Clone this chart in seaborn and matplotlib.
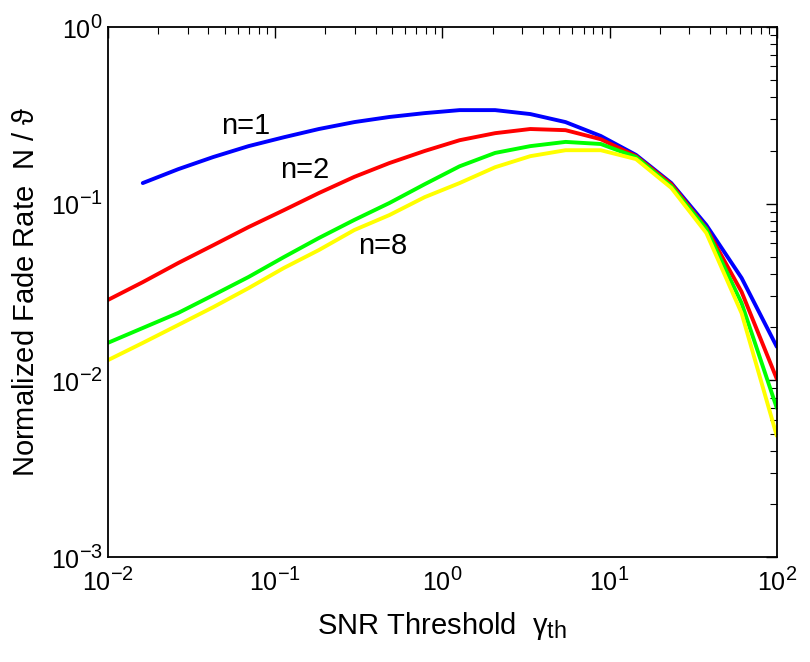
import numpy as np
import pandas as pd
import seaborn as sns
import matplotlib.pyplot as plt
import matplotlib._mathtext as mathtext

snr = [0.01, 0.0162, 0.0264, 0.0428, 0.0695, 0.113, 0.183, 0.298, 0.483, 0.785,
       1.27, 2.07, 3.36, 5.46, 8.86, 14.4, 23.4, 37.9, 61.6, 100.0]

# normalized fade rate per diversity order
rate_n1 = [np.nan, 0.131, 0.157, 0.184, 0.212, 0.238, 0.265, 0.290, 0.310, 0.326,
           0.339, 0.339, 0.322, 0.290, 0.242, 0.189, 0.131, 0.0758, 0.038, 0.0155]
rate_n2 = [0.0285, 0.0360, 0.0462, 0.0583, 0.0738, 0.092, 0.115, 0.142, 0.170, 0.199,
           0.229, 0.251, 0.265, 0.261, 0.232, 0.186, 0.129, 0.0728, 0.0317, 0.0102]
rate_n4 = [0.0163, 0.0198, 0.0241, 0.0304, 0.0385, 0.0499, 0.064, 0.081, 0.101, 0.129,
           0.163, 0.194, 0.212, 0.224, 0.218, 0.184, 0.126, 0.072, 0.0274, 0.00698]
rate_n8 = [0.0130, 0.0163, 0.0206, 0.026, 0.0333, 0.0433, 0.0547, 0.071, 0.0863, 0.109,
           0.131, 0.161, 0.186, 0.201, 0.201, 0.179, 0.123, 0.0683, 0.024, 0.00485]

orders = ['n=1', 'n=2', 'n=4', 'n=8']
colors = ['#0000ff', '#ff0000', '#00ff00', '#ffff00']

df = pd.concat([
    pd.DataFrame({'snr': snr, 'rate': r, 'n': name})
    for name, r in zip(orders, [rate_n1, rate_n2, rate_n4, rate_n8])
]).dropna()

sns.set_style('white')
plt.rcParams['font.family'] = ['Liberation Sans', 'DejaVu Sans']
plt.rcParams['mathtext.fontset'] = 'custom'
plt.rcParams['mathtext.rm'] = 'Liberation Sans'
plt.rcParams['mathtext.it'] = 'Liberation Sans'
plt.rcParams['axes.unicode_minus'] = False
for key in ['text.color', 'axes.labelcolor', 'xtick.color', 'ytick.color']:
    plt.rcParams[key] = 'black'
# bigger superscripts, like the original MATLAB-style tick labels
mathtext.SHRINK_FACTOR = 0.8

fig = plt.figure(figsize=(8.1, 6.62), dpi=100)
ax = fig.add_axes([0.133, 0.1586, 0.826, 0.8004])

sns.lineplot(data=df, x='snr', y='rate', hue='n', palette=colors,
             linewidth=2.8, legend=False, ax=ax, estimator=None, sort=False)

ax.set_xscale('log')
ax.set_yscale('log')
ax.set_xlim(1e-2, 1e2)
ax.set_ylim(1e-3, 1e0)

ax.text(0.0668, 0.275, 'n=1', fontsize=21, ha='center', va='center')
ax.text(0.151, 0.155, 'n=2', fontsize=21, ha='center', va='center')
ax.text(0.44, 0.0576, 'n=8', fontsize=21, ha='center', va='center')

ax.set_xlabel(r'SNR Threshold  $\gamma_{\rm th}$', fontsize=21, labelpad=10)
ax.set_ylabel(r'Normalized Fade Rate  N / $\vartheta$', fontsize=21, labelpad=8)

ax.tick_params(which='both', direction='in', top=True, right=True, labelsize=18)
ax.tick_params(which='major', length=8, width=1)
ax.tick_params(which='minor', length=5, width=0.8)
ax.tick_params(axis='x', pad=8)
for s in ax.spines.values():
    s.set_linewidth(1.3)
    s.set_color('black')

fig.savefig('out.png', dpi=100)
